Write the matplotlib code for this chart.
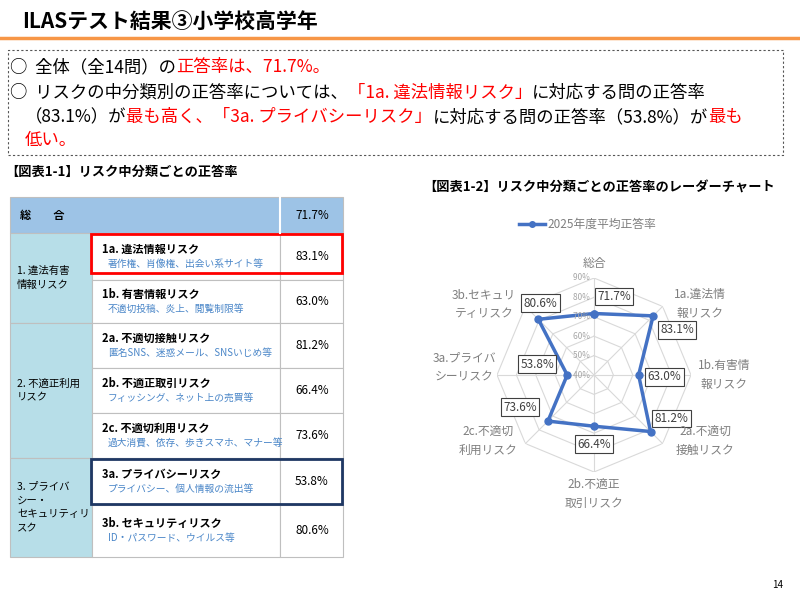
import numpy as np
import matplotlib.pyplot as plt
from matplotlib.patches import Rectangle

plt.rcParams['font.family'] = ['Noto Sans CJK JP', 'DejaVu Sans']

categories = ["総合", "1a.違法情\n報リスク", "1b.有害情\n報リスク", "2a.不適切\n接触リスク",
              "2b.不適正\n取引リスク", "2c.不適切\n利用リスク", "3a.プライバ\nシーリスク", "3b.セキュリ\nティリスク"]
rates = [71.7, 83.1, 63.0, 81.2, 66.4, 73.6, 53.8, 80.6]
rate_labels = ["71.7%", "83.1%", "63.0%", "81.2%", "66.4%", "73.6%", "53.8%", "80.6%"]
grid_levels = [40, 50, 60, 70, 80, 90]

groups = ["1. 違法有害\n情報リスク", "2. 不適正利用\nリスク", "3. プライバ\nシー・\nセキュリティリ\nスク"]
group_sizes = [2, 3, 2]
items = ["1a. 違法情報リスク", "1b. 有害情報リスク", "2a. 不適切接触リスク", "2b. 不適正取引リスク",
         "2c. 不適切利用リスク", "3a. プライバシーリスク", "3b. セキュリティリスク"]
item_notes = ["著作権、肖像権、出会い系サイト等", "不適切投稿、炎上、閲覧制限等", "匿名SNS、迷惑メール、SNSいじめ等",
              "フィッシング、ネット上の売買等", "過大消費、依存、歩きスマホ、マナー等", "プライバシー、個人情報の流出等",
              "ID・パスワード、ウイルス等"]
item_rates = ["83.1%", "63.0%", "81.2%", "66.4%", "73.6%", "53.8%", "80.6%"]

W, H = 800, 600
fig = plt.figure(figsize=(8, 6), dpi=100)
R = fig.canvas.get_renderer()

def fx(x): return x / W
def fy(y): return 1 - y / H

def txt(x, y, s, **kw):
    return fig.text(fx(x), fy(y), s, **kw)

def rich(x, y, parts, size):
    for s, c in parts:
        t = txt(x, y, s, color=c, fontsize=size, va='center')
        x += t.get_window_extent(R).width

def rect(x0, y0, x1, y1, **kw):
    fig.add_artist(Rectangle((fx(x0), fy(y1)), fx(x1 - x0), (y1 - y0) / H,
                             transform=fig.transFigure, **kw))

# title
txt(22, 21, "ILASテスト結果③小学校高学年", fontsize=15, fontweight='bold', va='center')
fig.add_artist(plt.Line2D([0, 1], [fy(38), fy(38)], color='#F79646', lw=2.5, transform=fig.transFigure))

# summary box
rect(8, 50, 783, 155, fill=False, ec='#555555', lw=0.8, ls=(0, (2, 2)))
red, blk = '#FF0000', 'black'
fs = 12.5
rich(10, 67, [("○  全体（全14問）の", blk), ("正答率は、71.7%。", red)], fs)
rich(10, 93, [("○  リスクの中分類別の正答率については、", blk), ("「1a. 違法情報リスク」", red),
              ("に対応する問の正答率", blk)], fs)
rich(25, 117, [("（83.1%）が", blk), ("最も高く、「3a. プライバシーリスク」", red),
               ("に対応する問の正答率（53.8%）が", blk), ("最も", red)], fs)
rich(25, 140, [("低い。", red)], fs)

txt(5, 172, "【図表1-1】リスク中分類ごとの正答率", fontsize=9.5, fontweight='bold', va='center')
txt(423, 188, "【図表1-2】リスク中分類ごとの正答率のレーダーチャート", fontsize=9.5, fontweight='bold', va='center')

# table
cx = [10, 92, 280, 343]
ry = [197, 233, 280, 323, 368, 413, 458, 505, 557]
rect(cx[0], ry[0], cx[3], ry[1], fc='#9DC3E6', ec='#BFBFBF', lw=0.8)
fig.add_artist(plt.Line2D([fx(cx[2])] * 2, [fy(ry[0]), fy(ry[1])], color='white', lw=1.5, transform=fig.transFigure))
txt(20, 215, "総　　合", fontsize=8, fontweight='bold', va='center')
txt(312, 215, "71.7%", fontsize=8.5, va='center', ha='center')
r = 1
for g, n in zip(groups, group_sizes):
    rect(cx[0], ry[r], cx[1], ry[r + n], fc='#B7DEE8', ec='#BFBFBF', lw=0.8)
    txt(17, (ry[r] + ry[r + n]) / 2, g, fontsize=7.5, va='center', linespacing=1.5)
    r += n
for i in range(7):
    y0, y1 = ry[i + 1], ry[i + 2]
    rect(cx[1], y0, cx[2], y1, fc='white', ec='#BFBFBF', lw=0.8)
    rect(cx[2], y0, cx[3], y1, fc='white', ec='#BFBFBF', lw=0.8)
    m = (y0 + y1) / 2
    txt(102, m - 7, items[i], fontsize=8, fontweight='bold', va='center')
    txt(108, m + 7, item_notes[i], fontsize=7, color='#4A86C8', va='center')
    txt(312, m, item_rates[i], fontsize=8.5, va='center', ha='center')
rect(91, 234, 342, 273, fill=False, ec='#FF0000', lw=2)
rect(91, 459, 342, 504, fill=False, ec='#1F3864', lw=2)

# radar
cxr, cyr, rad = 594, 375, 97
ax = fig.add_axes([fx(cxr - rad), fy(cyr + rad), rad * 2 / W, rad * 2 / H], projection='polar')
ax.set_theta_offset(np.pi / 2)
ax.set_theta_direction(-1)
ax.set_ylim(40, 90)
ax.axis('off')
theta = np.linspace(0, 2 * np.pi, len(rates), endpoint=False)
tc = np.append(theta, theta[0])
for lv in grid_levels[1:]:
    ax.plot(tc, [lv] * len(tc), color='#D9D9D9', lw=0.8)
for t in theta:
    ax.plot([t, t], [40, 90], color='#D9D9D9', lw=0.8)
ax.plot(tc, rates + [rates[0]], color='#4472C4', lw=2.5, marker='o', ms=5)
for lv in grid_levels:
    ax.text(0, lv, f"{lv}%  ", fontsize=6, color='#A6A6A6', ha='right', va='center')
offs = [(20, 17), (24, -14), (26, -2), (21, 13), (0, -18), (-28, 14), (-30, 11), (2, 16)]
for t, v, lab, (dx, dy) in zip(theta, rates, rate_labels, offs):
    ax.annotate(lab, (t, v), xytext=(dx * 0.72, dy * 0.72), textcoords='offset points',
                ha='center', va='center', fontsize=8.5, color='#404040',
                bbox=dict(boxstyle='square,pad=0.2', fc='white', ec='#404040', lw=0.8))
lab_pos = [(594, 263), (700, 304), (724, 375), (705, 441), (594, 494), (488, 441), (464, 367), (484, 304)]
for c, (x, y) in zip(categories, lab_pos):
    txt(x, y, c, fontsize=8.5, color='#7F7F7F', ha='center', va='center', linespacing=1.6)

# legend
fig.add_artist(plt.Line2D([fx(519), fx(545)], [fy(224)] * 2, color='#4472C4', lw=2.5,
                          transform=fig.transFigure))
fig.add_artist(plt.Line2D([fx(532)], [fy(224)], color='#4472C4', marker='o', ms=4,
                          transform=fig.transFigure))
txt(547, 224, "2025年度平均正答率", fontsize=8.5, color='#7F7F7F', va='center')

txt(778, 585, "14", fontsize=7, ha='center', va='center')

fig.savefig("out.png", dpi=100)
